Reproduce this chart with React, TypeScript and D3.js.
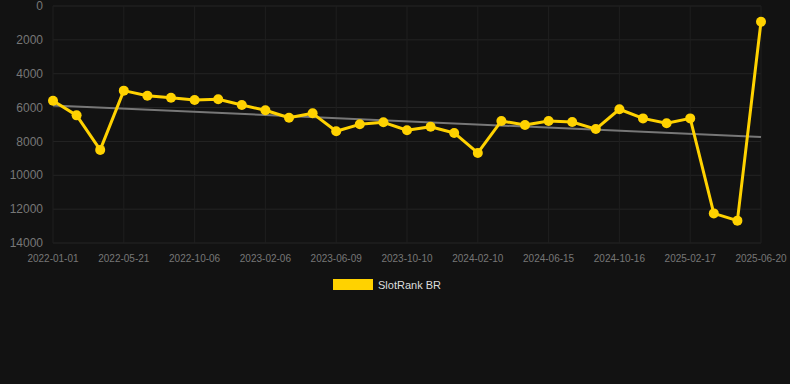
import React from "react";
import * as d3 from "d3";

const categories: string[] = [
  "2022-01-01", "2022-02-16", "2022-04-04", "2022-05-21", "2022-07-06", "2022-08-21",
  "2022-10-06", "2022-11-16", "2022-12-27", "2023-02-06", "2023-03-19", "2023-04-29",
  "2023-06-09", "2023-07-20", "2023-08-30", "2023-10-10", "2023-11-20", "2023-12-31",
  "2024-02-10", "2024-03-23", "2024-05-04", "2024-06-15", "2024-07-26", "2024-09-05",
  "2024-10-16", "2024-11-26", "2025-01-06", "2025-02-17", "2025-03-30", "2025-05-10",
  "2025-06-20",
];
const rankValues: number[] = [
  5600, 6460, 8500, 5000, 5300, 5420, 5550, 5510, 5850, 6160, 6600, 6340, 7400, 6990,
  6870, 7340, 7130, 7500, 8680, 6790, 7030, 6790, 6850, 7270, 6100, 6640, 6930, 6640,
  12250, 12680, 930,
];
const yTicks: number[] = [0, 2000, 4000, 6000, 8000, 10000, 12000, 14000];
const seriesName = "SlotRank BR";

const W = 790;
const H = 384;
const left = 53;
const right = 761;
const top = 6;
const bottom = 243;

export default function App() {
  const x = d3.scalePoint<string>().domain(categories).range([left, right]);
  const y = d3.scaleLinear().domain([0, 14000]).range([top, bottom]);

  // linear regression trend
  const n = rankValues.length;
  const mx = d3.mean(rankValues.map((_, i) => i)) as number;
  const my = d3.mean(rankValues) as number;
  let sxy = 0, sxx = 0;
  rankValues.forEach((v, i) => { sxy += (i - mx) * (v - my); sxx += (i - mx) * (i - mx); });
  const slope = sxy / sxx;
  const intercept = my - slope * mx;
  const trend = [0, n - 1].map((i) => ({ c: categories[i], v: intercept + slope * i }));

  const line = d3.line<number>()
    .x((_, i) => x(categories[i]) as number)
    .y((v) => y(v));
  const trendLine = d3.line<{ c: string; v: number }>()
    .x((d) => x(d.c) as number)
    .y((d) => y(d.v));

  const labelIdx = categories.map((_, i) => i).filter((i) => i % 3 === 0);
  const font = "'Liberation Sans', Arial, sans-serif";

  return (
    <div style={{ position: "fixed", left: 0, top: 0, width: W, height: H }}>
      <svg width={W} height={H} style={{ display: "block", background: "#121212" }}>
        <rect x={0} y={0} width={W} height={H} fill="#121212" />
        {yTicks.map((t) => (
          <g key={t}>
            <line x1={left} x2={right} y1={y(t)} y2={y(t)} stroke="#242424" strokeWidth={1} />
            <text x={43} y={y(t)} dy="0.35em" textAnchor="end" fill="#777" fontSize={12} fontFamily={font}>
              {t}
            </text>
          </g>
        ))}
        {labelIdx.map((i) => (
          <g key={i}>
            <line x1={x(categories[i])} x2={x(categories[i])} y1={top} y2={bottom} stroke="#1f1f1f" strokeWidth={1} />
            <text x={x(categories[i])} y={262} textAnchor="middle" fill="#777" fontSize={10} fontFamily={font}>
              {categories[i]}
            </text>
          </g>
        ))}
        <path d={trendLine(trend) || ""} fill="none" stroke="#777" strokeWidth={2} />
        <path d={line(rankValues) || ""} fill="none" stroke="#FFD200" strokeWidth={3} strokeLinejoin="round" />
        {rankValues.map((v, i) => (
          <circle key={i} cx={x(categories[i])} cy={y(v)} r={5} fill="#FFD200" />
        ))}
        <rect x={333} y={279} width={40} height={11} fill="#FFD200" />
        <text x={378} y={285} dy="0.35em" fill="#ddd" fontSize={11} fontFamily={font}>
          {seriesName}
        </text>
      </svg>
    </div>
  );
}
